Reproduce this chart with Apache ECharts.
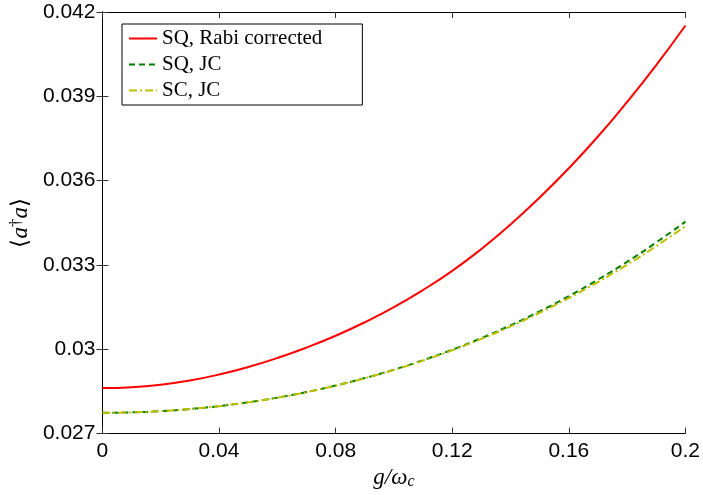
<!DOCTYPE html>
<html>
<head>
<meta charset="utf-8">
<script src="https://cdn.jsdelivr.net/npm/echarts@6/dist/echarts.min.js"></script>
<style>html,body{margin:0;padding:0;background:#fff}#c{width:703px;height:495px}</style>
</head>
<body>
<div id="c"></div>
<script>
const gValues = [0,0.01,0.02,0.03,0.04,0.05,0.06,0.07,0.08,0.09,0.10,0.11,0.12,0.13,0.14,0.15,0.16,0.17,0.18,0.19,0.20];
const sqRabi = [0.02862,0.02865,0.02874,0.02889,0.0291,0.02937,0.02969,0.03006,0.03048,0.03096,0.0315,0.03211,0.03279,0.03357,0.03444,0.0354,0.03644,0.03757,0.0388,0.04011,0.04152];
const sqJC = [0.02774,0.027755,0.027799,0.027874,0.027978,0.028113,0.02828,0.028478,0.02871,0.028975,0.029275,0.029612,0.029985,0.030398,0.030852,0.031349,0.03189,0.032477,0.033112,0.033801,0.03454];
const scJC = [0.02774,0.027755,0.027799,0.027874,0.027977,0.028111,0.028277,0.028474,0.028706,0.028969,0.029265,0.029597,0.029964,0.030369,0.030814,0.031299,0.031824,0.032393,0.033007,0.033671,0.03438];
const seriesNames = ['SQ, Rabi corrected','SQ, JC','SC, JC'];
const xTicks = {min:0, max:0.2, interval:0.04};
const yTicks = {min:0.027, max:0.042, interval:0.003};

const pairs = arr => gValues.map((g,i)=>[g,arr[i]]);
const fmt = v => String(parseFloat(v.toFixed(4)));
const sans = 'Liberation Sans, Arial, sans-serif';
const serif = 'Liberation Serif, Times New Roman, serif';

const chart = echarts.init(document.getElementById('c'), null, {renderer:'canvas'});
const baseAxis = {
  axisLine:{show:true, lineStyle:{color:'#000', width:1}},
  splitLine:{show:false},
  axisTick:{show:true, inside:true, length:6, lineStyle:{color:'#333'}}
};
chart.setOption({
  animation:false,
  backgroundColor:'#fff',
  grid:{left:102, right:17, top:12, bottom:58},
  legend:{
    left:122, top:24, orient:'vertical',
    backgroundColor:'#fff', borderColor:'#000', borderWidth:1,
    padding:[4,40,4,6], itemGap:5, itemWidth:28, itemHeight:20,
    itemStyle:{opacity:0},
    lineStyle:{width:2},
    textStyle:{fontFamily:serif, fontSize:21, color:'#000', lineHeight:20},
    data:seriesNames
  },
  xAxis:[
    Object.assign({type:'value', position:'bottom', min:xTicks.min, max:xTicks.max, interval:xTicks.interval,
      axisLabel:{formatter:fmt, fontFamily:sans, fontSize:21, color:'#000', margin:7},
      name:'{i|g/ω}{s|c}', nameLocation:'middle', nameGap:24,
      nameTextStyle:{rich:{i:{fontFamily:serif, fontStyle:'italic', fontSize:23, color:'#000'},
        s:{fontFamily:serif, fontStyle:'italic', fontSize:16, color:'#000', verticalAlign:'bottom', padding:[8,0,0,0]}}}
    }, baseAxis),
    Object.assign({type:'value', position:'top', min:xTicks.min, max:xTicks.max, interval:xTicks.interval,
      axisLabel:{show:false}}, baseAxis)
  ],
  yAxis:[
    Object.assign({type:'value', position:'left', min:yTicks.min, max:yTicks.max, interval:yTicks.interval,
      axisLabel:{formatter:fmt, fontFamily:sans, fontSize:21, color:'#000', margin:7},
      name:'{n|⟨}{i|a}{p|†}{i|a}{n|⟩}', nameLocation:'middle', nameGap:54, nameRotate:90,
      nameTextStyle:{rich:{
        n:{fontFamily:serif, fontSize:23, color:'#000'},
        i:{fontFamily:serif, fontStyle:'italic', fontSize:23, color:'#000'},
        p:{fontFamily:serif, fontSize:17, color:'#000', verticalAlign:'top', padding:[0,0,8,0]}}}
    }, baseAxis),
    Object.assign({type:'value', position:'right', min:yTicks.min, max:yTicks.max, interval:yTicks.interval,
      axisLabel:{show:false}}, baseAxis)
  ],
  series:[
    {name:seriesNames[0], type:'line', data:pairs(sqRabi), smooth:true, showSymbol:false, symbol:'none',
     lineStyle:{color:'#ff0000', width:2}, itemStyle:{color:'#ff0000'}, z:3},
    {name:seriesNames[1], type:'line', data:pairs(sqJC), smooth:true, showSymbol:false, symbol:'none',
     lineStyle:{color:'#007f00', width:2, type:[6,4]}, itemStyle:{color:'#007f00'}, z:2},
    {name:seriesNames[2], type:'line', data:pairs(scJC), smooth:true, showSymbol:false, symbol:'none',
     lineStyle:{color:'#bfbf00', width:2, type:[8,3,2,3]}, itemStyle:{color:'#bfbf00'}, z:4}
  ]
});
</script>
</body>
</html>
